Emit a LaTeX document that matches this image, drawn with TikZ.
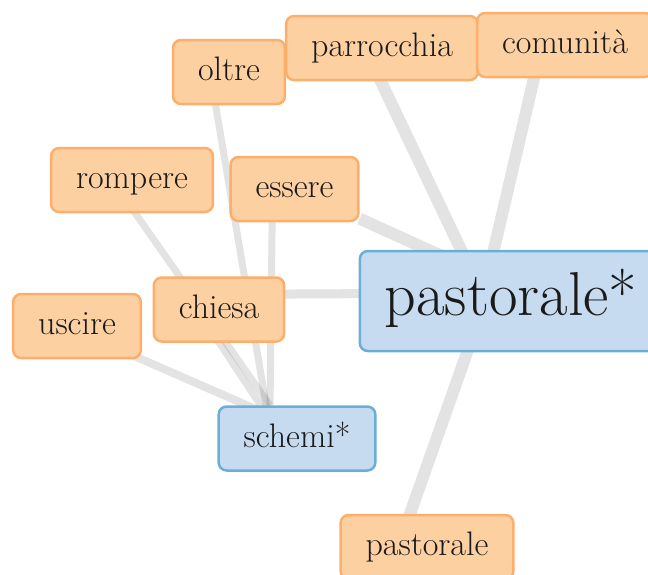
\documentclass[tikz,border=0pt]{standalone}
\usetikzlibrary{calc,backgrounds}
\definecolor{ofill}{HTML}{FDD0A2}
\definecolor{odraw}{HTML}{FDAE6B}
\definecolor{bfill}{HTML}{C6DBEF}
\definecolor{bdraw}{HTML}{6BAED6}
\definecolor{txt}{HTML}{1A1A1A}
\tikzset{
  wbox/.style={rounded corners=8pt, line width=2.5pt, inner xsep=25pt, inner ysep=0pt,
    text=txt, font=\fontsize{34}{40}\selectfont, text height=25pt, text depth=8pt,
    minimum height=64pt},
  obox/.style={wbox, fill=ofill, draw=odraw},
  bbox/.style={wbox, fill=bfill, draw=bdraw},
  bigbox/.style={bbox, font=\fontsize{62}{70}\selectfont, text height=42pt, text depth=14pt, minimum height=100pt},
  edgeb/.style={draw=black, draw opacity=0.11, line width=12pt},
  edgem/.style={draw=black, draw opacity=0.11, line width=9pt},
  edges/.style={draw=black, draw opacity=0.11, line width=7pt},
}
\begin{document}
\begin{tikzpicture}[x=1pt,y=-1pt]
\useasboundingbox (0,0) rectangle (648,574);
\node[obox] (olt) at (229,72) {oltre};
\node[obox] (par) at (382,48) {parrocchia};
\node[obox] (com) at (565,45) {comunità};
\node[obox] (rom) at (132,180) {rompere};
\node[obox] (ess) at (294.5,189) {essere};
\node[obox] (chi) at (219,309.5) {chiesa};
\node[obox] (usc) at (77,326) {uscire};
\node[bbox] (sch) at (297,438.5) {schemi*};
\node[bigbox] (pst) at (511,301) {pastorale*};
\node[obox] (pas) at (427,547) {pastorale};
\begin{scope}[on background layer]
\draw[edgeb] ($(par)+(-17,0)$) -- ($(pst)+(-28,-5)$);
\draw[edgeb] ($(com)+(-23,-1)$) -- ($(pst)+(-28,-5)$);
\draw[edgeb] (ess) -- ($(pst)+(-21,-23)$);
\draw[edgem] ($(chi)+(-19,-15)$) -- ($(pst)+(-28,-8)$);
\draw[edgeb] ($(pas)+(-28,-2)$) -- ($(pst)+(-24,-5)$);
\draw[edges, line width=8pt] ($(usc)+(0,5)$) -- ($(sch)+(-29,-24)$);
\draw[edges] ($(rom)+(-20,0)$) -- ($(sch)+(-27,-33)$);
\draw[edges] ($(chi)+(-31,-14)$) -- ($(sch)+(-33,-28)$);
\draw[edges] ($(olt)+(-19,0)$) -- ($(sch)+(-30,-28)$);
\draw[edges] ($(ess)+(-22,0)$) -- ($(sch)+(-27,-28)$);
\end{scope}
\end{tikzpicture}
\end{document}
